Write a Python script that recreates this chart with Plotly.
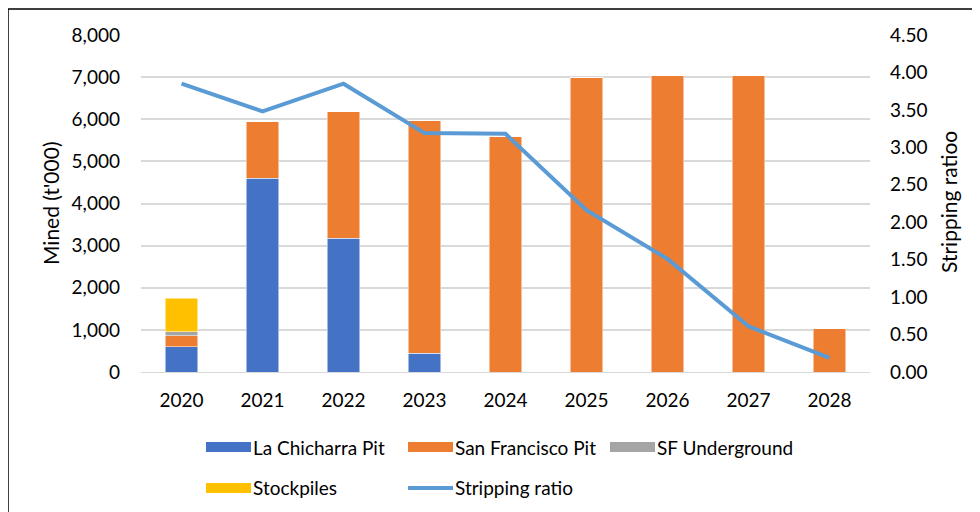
"""
    Mined tonnes by source and stripping ratio
"""

import plotly.graph_objs as go

years = ["2020", "2021", "2022", "2023", "2024", "2025", "2026", "2027", "2028"]
la_chicharra = [600, 4600, 3170, 450, 0, 0, 0, 0, 0]
san_francisco = [260, 1340, 3010, 5510, 5600, 7000, 7030, 7030, 1030]
sf_underground = [95, 0, 0, 0, 0, 0, 0, 0, 0]
stockpiles = [800, 0, 0, 0, 0, 0, 0, 0, 0]
stripping_ratio = [3.85, 3.48, 3.85, 3.19, 3.18, 2.16, 1.51, 0.61, 0.19]

W, H = 980, 512
OFF = 8  # page body margin in the browser
L, R, T, B = 141 - OFF, 870 - OFF, 35 - OFF, 372 - OFF
FONT = "Lato"


def px(p):
    # screen pixel -> paper x
    return (p - OFF - L) / (R - L)


def py(p):
    # screen pixel -> paper y
    return (B - (p - OFF)) / (B - T)


bars = [
    ("La Chicharra Pit", la_chicharra, "#4472C4"),
    ("San Francisco Pit", san_francisco, "#ED7D31"),
    ("SF Underground", sf_underground, "#A5A5A5"),
    ("Stockpiles", stockpiles, "#FFC000"),
]

data = []
for name, vals, col in bars:
    data.append(go.Bar(x=years, y=vals, name=name,
                       marker={"color": col, "line": {"color": "white", "width": 0.5}}))

data.append(go.Scatter(x=years, y=stripping_ratio, name="Stripping ratio", yaxis="y2",
                       mode="lines", line={"color": "#5B9BD5", "width": 4}))

layout = go.Layout(
    width=W, height=H, barmode="stack", bargap=0.6, showlegend=False,
    paper_bgcolor="white", plot_bgcolor="white",
    margin={"l": L, "r": W - R, "t": T, "b": H - B},
    font={"family": FONT, "size": 19, "color": "black"},
    xaxis={"showgrid": False, "showline": True, "linecolor": "#D9D9D9",
           "ticklabelstandoff": 11},
    yaxis={"range": [0, 8000], "dtick": 1000, "tickformat": ",d",
           "gridcolor": "#D9D9D9", "gridwidth": 1.5, "zeroline": False,
           "ticklabelstandoff": 20},
    yaxis2={"range": [0, 4.5], "dtick": 0.5, "tickformat": ".2f", "overlaying": "y",
            "side": "right", "showgrid": False, "zeroline": False,
            "ticklabelstandoff": 19},
)

fig = go.Figure(data=data, layout=layout)

# axis titles
fig.add_annotation(text="Mined (t'000)", x=px(50), y=py(203), xref="paper", yref="paper",
                   xanchor="center", yanchor="middle",
                   textangle=-90, showarrow=False, font={"size": 21})
fig.add_annotation(text="Stripping ratioo", x=px(948), y=py(202), xref="paper", yref="paper",
                   xanchor="center", yanchor="middle",
                   textangle=-90, showarrow=False, font={"size": 21})

# legend drawn by hand to match the wide swatches
legend = [
    ("La Chicharra Pit", "#4472C4", 206, 447, "bar"),
    ("San Francisco Pit", "#ED7D31", 408, 447, "bar"),
    ("SF Underground", "#A5A5A5", 610, 447, "bar"),
    ("Stockpiles", "#FFC000", 206, 488, "bar"),
    ("Stripping ratio", "#5B9BD5", 408, 488, "line"),
]
for name, col, x0, yc, kind in legend:
    if kind == "bar":
        fig.add_shape(type="rect", xref="paper", yref="paper",
                      x0=px(x0), x1=px(x0 + 45), y0=py(yc - 5), y1=py(yc + 5),
                      fillcolor=col, line={"width": 0})
    else:
        fig.add_shape(type="line", xref="paper", yref="paper",
                      x0=px(x0), x1=px(x0 + 45), y0=py(yc), y1=py(yc),
                      line={"color": col, "width": 4})
    fig.add_annotation(text=name, x=px(x0 + 45), y=py(yc), xref="paper", yref="paper",
                       xanchor="left", yanchor="middle", showarrow=False)

# chart border
fig.add_shape(type="rect", xref="paper", yref="paper",
              x0=px(8), x1=px(1000), y0=py(540), y1=py(9),
              line={"color": "black", "width": 1.5}, fillcolor="rgba(0,0,0,0)")

fig.write_html("out.html")
